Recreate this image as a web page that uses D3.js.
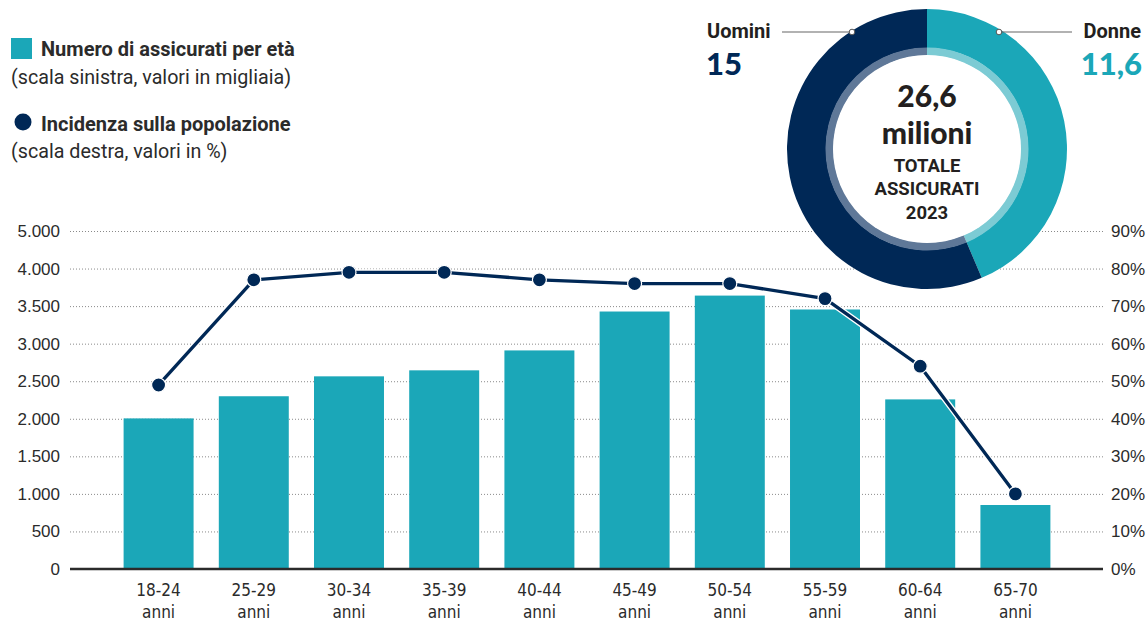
<!DOCTYPE html>
<html>
<head>
<meta charset="UTF-8" />
<title>Assicurati per età</title>
<script src="https://d3js.org/d3.v7.min.js"></script>
<style>
  body { margin: 0; background: #fff; }
  svg { display: block; font-family: "Liberation Sans Narrow", "DejaVu Sans Condensed", sans-serif; }
  .tick text { fill: #2b2b2b; font-size: 17px; }
  .grid line { stroke: #8a8a8a; stroke-dasharray: 1,2; }
  .legend { fill: #2b2b2b; font-family: Roboto, sans-serif; }
</style>
</head>
<body>
<svg id="chart" width="1146" height="625"></svg>
<script>
// data
var ages = ["18-24", "25-29", "30-34", "35-39", "40-44", "45-49", "50-54", "55-59", "60-64", "65-70"];
var insured = [2005, 2300, 2565, 2645, 2910, 3428, 3640, 3455, 2258, 852];   // migliaia
var incidence = [49, 77, 79, 79, 77, 76, 76, 72, 54, 20];                      // %
var leftTicks = [0, 500, 1000, 1500, 2000, 2500, 3000, 3500, 4000, 4500];
var leftLabels = ["0", "500", "1.000", "1.500", "2.000", "2.500", "3.000", "3.500", "4.000", "5.000"];
var rightTicks = [0, 10, 20, 30, 40, 50, 60, 70, 80, 90];
var genders = ["Donne", "Uomini"];
var genderValues = [11.6, 15];
var genderLabels = ["11,6", "15"];

var teal = "#1ba7b8", navy = "#002856", ink = "#231f20";

var svg = d3.select("#chart");

var x0 = 70, x1 = 1103, yTop = 231, yBot = 569;

var x = d3.scaleBand().domain(ages).range([76, 1098]).paddingInner(0.265).paddingOuter(0.5);
var yL = d3.scaleLinear().domain([0, 4500]).range([yBot, yTop]);
var yR = d3.scaleLinear().domain([0, 90]).range([yBot, yTop]);

// gridlines + left labels
var gl = svg.append("g")
  .attr("class", "grid")
  .attr("transform", "translate(" + x0 + ",0)")
  .call(d3.axisLeft(yL).tickValues(leftTicks).tickSize(-(x1 - x0)).tickPadding(10)
    .tickFormat(function(d, i) { return leftLabels[i]; }));
gl.select(".domain").remove();
gl.selectAll(".tick").filter(function(d) { return d === 0; }).select("line").remove();

// right labels
var gr = svg.append("g")
  .attr("transform", "translate(" + x1 + ",0)")
  .call(d3.axisRight(yR).tickValues(rightTicks).tickSize(0).tickPadding(8)
    .tickFormat(function(d) { return d + "%"; }));
gr.select(".domain").remove();

// donut
var cx = 927, cy = 149;
var pie = d3.pie().sort(null).value(function(d) { return d; });
var arcs = pie(genderValues);
var outer = d3.arc().innerRadius(101).outerRadius(140);
var ring = d3.arc().innerRadius(93.5).outerRadius(101.5);
var donut = svg.append("g").attr("transform", "translate(" + cx + "," + cy + ")");
donut.selectAll(".o").data(arcs).enter().append("path")
  .attr("d", outer).attr("fill", function(d, i) { return i === 0 ? teal : navy; });
donut.selectAll(".r").data(arcs).enter().append("path")
  .attr("d", ring).attr("fill", function(d, i) { return i === 0 ? "#7ccbd4" : "#5f7898"; });
donut.append("circle").attr("r", 94).attr("fill", "#fff");

var ctr = donut.append("g").attr("text-anchor", "middle").attr("fill", ink);
ctr.append("text").attr("y", -42).style("font", "900 30px Lato, sans-serif").text("26,6");
ctr.append("text").attr("y", -5).style("font", "900 30px Lato, sans-serif").text("milioni");
ctr.append("text").attr("y", 23).style("font", "700 18.5px Roboto, sans-serif").text("TOTALE");
ctr.append("text").attr("y", 46).style("font", "700 18.5px Roboto, sans-serif").text("ASSICURATI");
ctr.append("text").attr("y", 70).style("font", "700 18.5px Roboto, sans-serif").text("2023");

// leader lines
var lead = svg.append("g");
lead.append("line").attr("x1", 782).attr("x2", 852).attr("y1", 32).attr("y2", 32).attr("stroke", "#666").attr("stroke-width", 1.2);
lead.append("line").attr("x1", 999).attr("x2", 1072).attr("y1", 32).attr("y2", 32).attr("stroke", "#666").attr("stroke-width", 1.2);
lead.append("circle").attr("cx", 852).attr("cy", 32).attr("r", 2.8).attr("fill", "#fff").attr("stroke", "#555");
lead.append("circle").attr("cx", 999).attr("cy", 32).attr("r", 2.8).attr("fill", "#fff").attr("stroke", "#555");
lead.append("text").attr("x", 707).attr("y", 38).attr("fill", ink).style("font", "700 20px Roboto, sans-serif").text(genders[1]);
lead.append("text").attr("x", 1141).attr("y", 38).attr("text-anchor", "end").attr("fill", ink).style("font", "700 20px Roboto, sans-serif").text(genders[0]);
lead.append("text").attr("x", 706).attr("y", 75).attr("fill", navy).style("font", "900 31px Lato, sans-serif").text(genderLabels[1]);
lead.append("text").attr("x", 1142).attr("y", 75).attr("text-anchor", "end").attr("fill", teal).style("font", "900 31px Lato, sans-serif").text(genderLabels[0]);

// bars
svg.append("g").selectAll("rect").data(ages).enter().append("rect")
  .attr("x", function(d) { return x(d); })
  .attr("y", function(d, i) { return yL(insured[i]); })
  .attr("width", x.bandwidth())
  .attr("height", function(d, i) { return yBot - yL(insured[i]); })
  .attr("fill", teal);

// baseline
svg.append("line").attr("x1", x0).attr("x2", x1).attr("y1", yBot).attr("y2", yBot)
  .attr("stroke", "#2b2b2b").attr("stroke-width", 2.5);

// x labels
var xl = svg.append("g").selectAll("text").data(ages).enter().append("text")
  .attr("x", function(d) { return x(d) + x.bandwidth() / 2; })
  .attr("text-anchor", "middle").attr("fill", "#2b2b2b").style("font-size", "17px");
xl.append("tspan").attr("y", 596).attr("x", function(d) { return x(d) + x.bandwidth() / 2; }).text(function(d) { return d; });
xl.append("tspan").attr("y", 618).attr("x", function(d) { return x(d) + x.bandwidth() / 2; }).text("anni");

// line
var line = d3.line()
  .x(function(d, i) { return x(ages[i]) + x.bandwidth() / 2; })
  .y(function(d) { return yR(d); });
svg.append("path").datum(incidence).attr("d", line)
  .attr("fill", "none").attr("stroke", "#fff").attr("stroke-width", 6);
svg.append("path").datum(incidence).attr("d", line)
  .attr("fill", "none").attr("stroke", navy).attr("stroke-width", 3.3);
svg.append("g").selectAll("circle").data(incidence).enter().append("circle")
  .attr("cx", function(d, i) { return x(ages[i]) + x.bandwidth() / 2; })
  .attr("cy", function(d) { return yR(d); })
  .attr("r", 7).attr("fill", navy).attr("stroke", "#fff").attr("stroke-width", 1.2);

// legend
var lg = svg.append("g").attr("class", "legend");
lg.append("rect").attr("x", 11).attr("y", 38).attr("width", 21).attr("height", 21).attr("fill", teal);
lg.append("text").attr("x", 41).attr("y", 56).style("font-size", "20px").style("font-weight", 700).text("Numero di assicurati per età");
lg.append("text").attr("x", 11).attr("y", 84).style("font-size", "19.7px").text("(scala sinistra, valori in migliaia)");
lg.append("circle").attr("cx", 23).attr("cy", 122).attr("r", 8.5).attr("fill", navy);
lg.append("text").attr("x", 41).attr("y", 131).style("font-size", "20px").style("font-weight", 700).text("Incidenza sulla popolazione");
lg.append("text").attr("x", 11).attr("y", 158).style("font-size", "19.7px").text("(scala destra, valori in %)");
</script>
</body>
</html>
